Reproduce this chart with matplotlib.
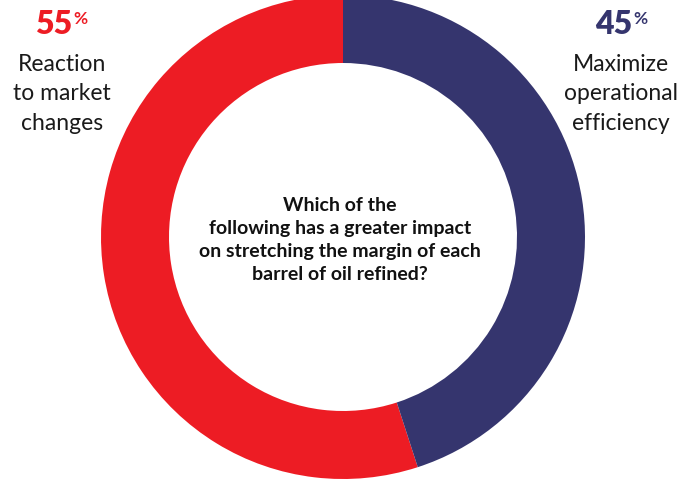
import matplotlib
matplotlib.use("Agg")
import matplotlib.pyplot as plt

categories = ["Reaction\nto market\nchanges", "Maximize\noperational\nefficiency"]
values = [55, 45]
colors = ["#ED1C24", "#35356E"]
question = "Which of the\nfollowing has a greater impact\non stretching the margin of each\nbarrel of oil refined?"

W, H = 684, 480
fig = plt.figure(figsize=(W / 100, H / 100), dpi=100)
ax = fig.add_axes([0, 0, 1, 1])

cx, cy, R = 343, H - 237, 242
ax.pie(values, colors=colors, startangle=90, counterclock=True, center=(cx, cy),
       radius=R, wedgeprops=dict(width=68, linewidth=0), frame=True)
ax.set_xlim(0, W)
ax.set_ylim(0, H)
ax.set_aspect("equal")
ax.axis("off")

fam = ["Lato", "DejaVu Sans"]
ax.text(340, H - 240, question, ha="center", va="center", fontsize=14,
        fontweight="bold", family=fam, linespacing=1.42, color="#111111")

pos = [(54, 62), (614, 621)]
for (numx, labx), cat, val, col in zip(pos, categories, values, colors):
    t = ax.text(numx, H - 24, f"{val}", ha="center", va="center", fontsize=23,
                fontweight="heavy", family=fam, color=col)
    ax.annotate("%", xy=(1, 1), xycoords=t, xytext=(0.5, -1), textcoords="offset points",
                ha="left", va="top", fontsize=12.5, fontweight="bold", family=fam, color=col)
    ax.text(labx, H - 94, cat, ha="center", va="center", fontsize=16.5,
            family=fam, linespacing=1.52, color="#1a1a1a")

fig.savefig("out.png", dpi=100)
